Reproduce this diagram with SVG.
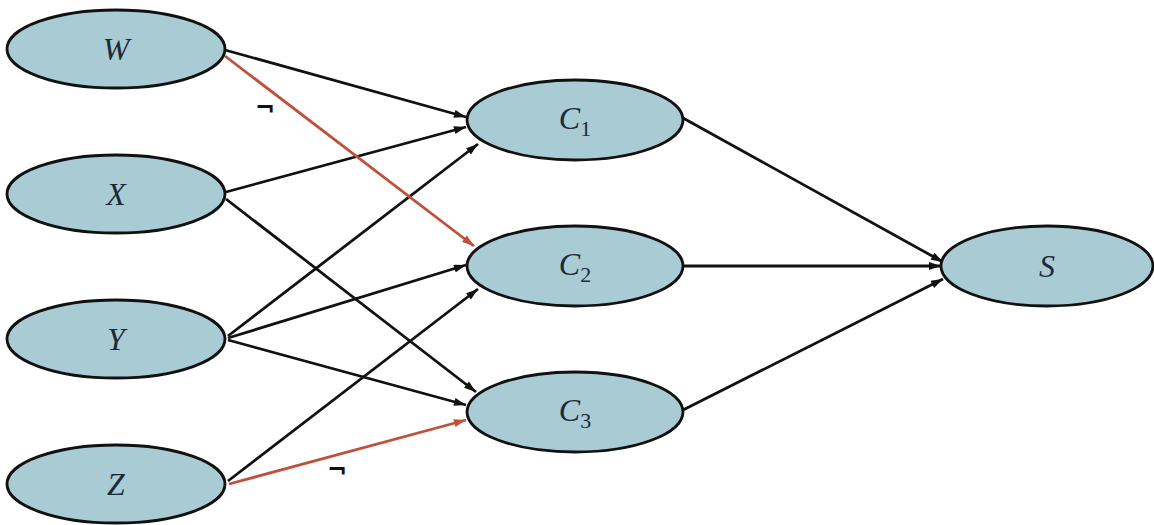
<svg xmlns="http://www.w3.org/2000/svg" width="1154" height="525" viewBox="0 0 1154 525">
<defs>
<style>
.n ellipse{fill:#a9cbd4;stroke:#111;stroke-width:2.8}
.n text{font-family:"Liberation Serif","Times New Roman",serif;font-style:italic;font-size:32px;fill:#1c2a38;text-anchor:middle}
.n tspan.s{font-style:normal;font-size:22px}
.e line{stroke:#111;stroke-width:2.8}
.e line.r{stroke:#c0503a}
.neg{font-family:"DejaVu Sans",sans-serif;font-weight:bold;font-size:24px;fill:#111}
</style>
<marker id="a" viewBox="0 0 12 8" refX="12" refY="4" markerWidth="13" markerHeight="8" markerUnits="userSpaceOnUse" orient="auto"><path d="M0,0L12,4L0,8z" fill="#111"/></marker>
<marker id="ar" viewBox="0 0 12 8" refX="12" refY="4" markerWidth="13" markerHeight="8" markerUnits="userSpaceOnUse" orient="auto"><path d="M0,0L12,4L0,8z" fill="#c0503a"/></marker>
</defs>
<rect width="1154" height="525" fill="#fff"/>
<g id="edges" class="e">
<line x1="225" y1="50" x2="466" y2="117" marker-end="url(#a)"/>
<line x1="226" y1="192" x2="466" y2="127" marker-end="url(#a)"/>
<line x1="228" y1="336" x2="478" y2="144" marker-end="url(#a)"/>
<line x1="228" y1="338" x2="466" y2="265" marker-end="url(#a)"/>
<line x1="228" y1="481" x2="478" y2="289" marker-end="url(#a)"/>
<line x1="226" y1="199" x2="476" y2="392" marker-end="url(#a)"/>
<line x1="228" y1="340" x2="466" y2="405" marker-end="url(#a)"/>
<line class="r" x1="225" y1="56" x2="474" y2="246" marker-end="url(#ar)"/>
<line class="r" x1="229" y1="484" x2="466" y2="420" marker-end="url(#ar)"/>
<line x1="683" y1="118" x2="943" y2="262" marker-end="url(#a)"/>
<line x1="684" y1="266" x2="941" y2="266" marker-end="url(#a)"/>
<line x1="683" y1="410" x2="943" y2="279" marker-end="url(#a)"/>
</g>
<text class="neg" x="255" y="116">¬</text>
<text class="neg" x="327" y="478">¬</text>
<g id="W" class="n"><ellipse cx="116" cy="49" rx="109" ry="39"/><text x="116" y="60">W</text></g>
<g id="X" class="n"><ellipse cx="116" cy="194" rx="109" ry="39"/><text x="116" y="205">X</text></g>
<g id="Y" class="n"><ellipse cx="116" cy="339" rx="109" ry="39"/><text x="116" y="350">Y</text></g>
<g id="Z" class="n"><ellipse cx="116" cy="484" rx="109" ry="39"/><text x="116" y="495">Z</text></g>
<g id="C1" class="n"><ellipse cx="575" cy="120" rx="108" ry="40"/><text x="575" y="129">C<tspan class="s" dy="7">1</tspan></text></g>
<g id="C2" class="n"><ellipse cx="575" cy="266" rx="108" ry="40"/><text x="575" y="275">C<tspan class="s" dy="7">2</tspan></text></g>
<g id="C3" class="n"><ellipse cx="575" cy="412" rx="108" ry="40"/><text x="575" y="421">C<tspan class="s" dy="7">3</tspan></text></g>
<g id="S" class="n"><ellipse cx="1047" cy="266" rx="106" ry="40"/><text x="1047" y="277">S</text></g>
</svg>
